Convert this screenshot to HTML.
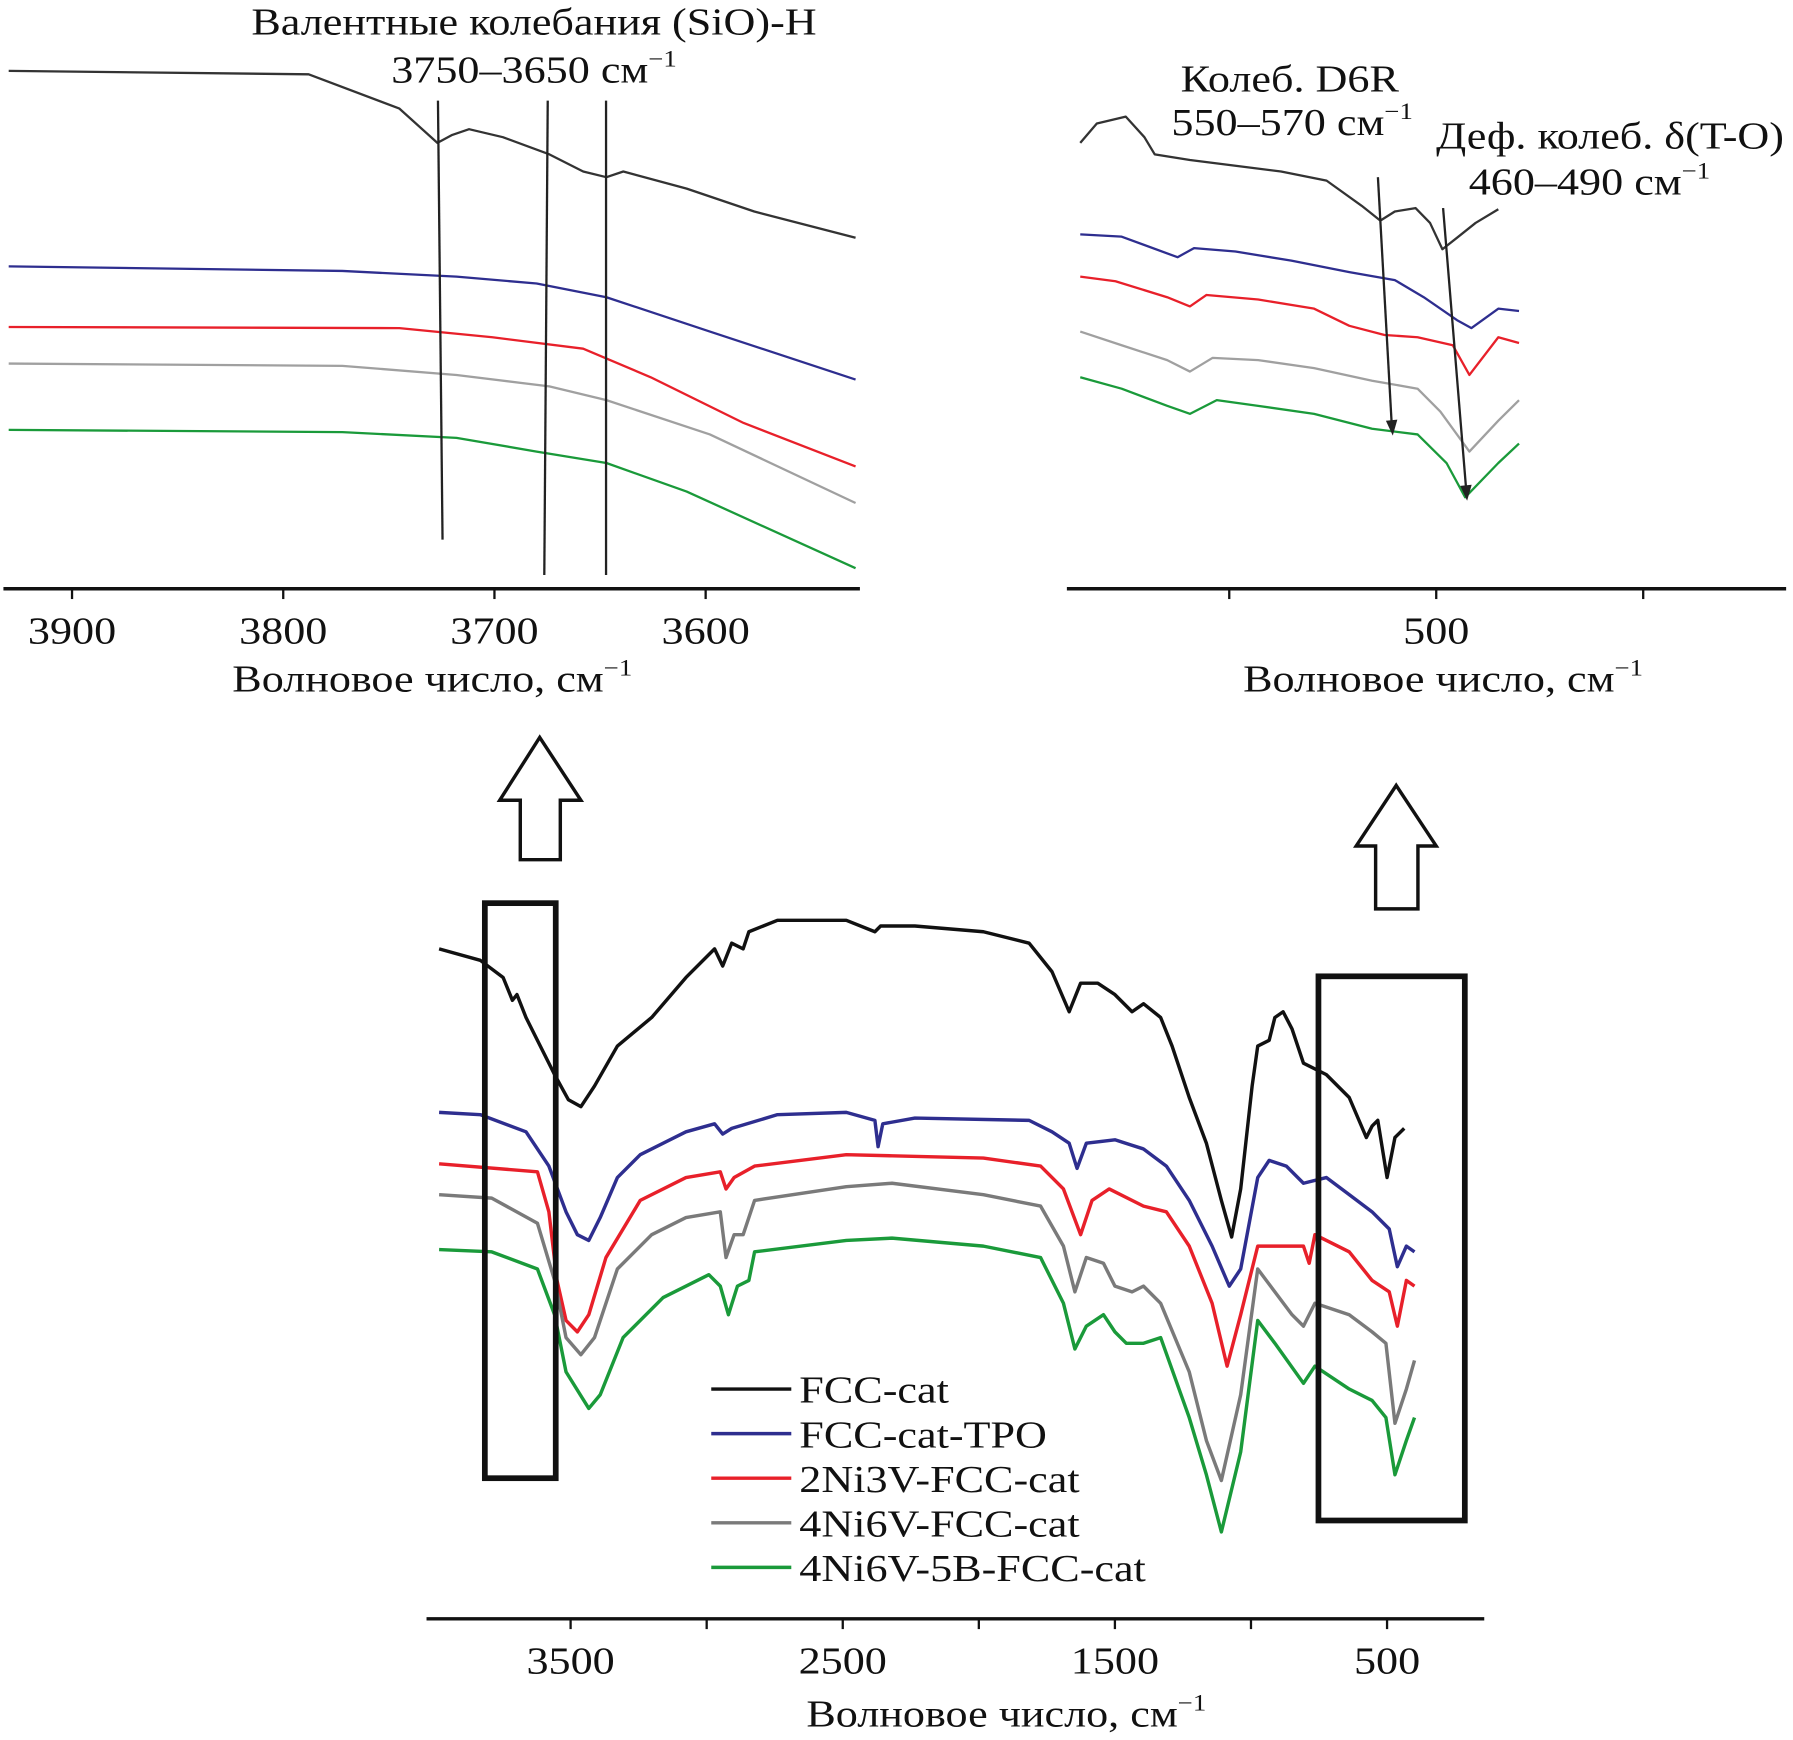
<!DOCTYPE html>
<html><head><meta charset="utf-8"><style>
html,body{margin:0;padding:0;background:#fff}
svg{display:block}
text{font-family:"Liberation Serif",serif;fill:#111}
</style></head><body>
<svg id="fig" width="1793" height="1740" viewBox="0 0 1568 1522" preserveAspectRatio="none" xmlns="http://www.w3.org/2000/svg">
<g id="main"></g>
<g id="insetL"></g>
<g id="insetR"></g>
<g id="deco">
<text x="467" y="30" font-size="33" text-anchor="middle">Валентные колебания (SiO)-H</text>
<text x="467" y="72" font-size="33" text-anchor="middle">3750–3650 см<tspan dy="-14" font-size="20">−1</tspan></text>
<text x="1128" y="80" font-size="33" text-anchor="middle">Колеб. D6R</text>
<text x="1130" y="118" font-size="33" text-anchor="middle">550–570 см<tspan dy="-14" font-size="20">−1</tspan></text>
<text x="1408" y="130" font-size="33" text-anchor="middle">Деф. колеб. δ(T-O)</text>
<text x="1390" y="170" font-size="33" text-anchor="middle">460–490 см<tspan dy="-14" font-size="20">−1</tspan></text>
<line x1="383" y1="88" x2="387" y2="472" stroke="#222" stroke-width="2"/>
<line x1="479" y1="88" x2="476" y2="503" stroke="#222" stroke-width="2"/>
<line x1="530" y1="88" x2="530" y2="503" stroke="#222" stroke-width="2"/>
<line x1="1205" y1="155" x2="1217" y2="370" stroke="#222" stroke-width="2"/>
<polygon points="1212,368 1222,367 1218,381" fill="#222"/>
<line x1="1262" y1="182" x2="1282" y2="426" stroke="#222" stroke-width="2"/>
<polygon points="1277,425 1287,424 1283,438" fill="#222"/>
<polygon points="472,645 508,700 490,700 490,752 455,752 455,700 437,700" fill="#fff" stroke="#111" stroke-width="3"/>
<polygon points="1221,687 1256,740 1240,740 1240,795 1203,795 1203,740 1186,740" fill="#fff" stroke="#111" stroke-width="3"/>
<rect x="424" y="790" width="62" height="503" fill="none" stroke="#111" stroke-width="5"/>
<rect x="1153" y="854" width="128" height="476" fill="none" stroke="#111" stroke-width="5"/>
</g>
<g id="legend"></g>
</svg>
<script>
const NS="http://www.w3.org/2000/svg";
const seriesNames=["FCC-cat","FCC-cat-TPO","2Ni3V-FCC-cat","4Ni6V-FCC-cat","4Ni6V-5B-FCC-cat"];
const seriesColors=["#111111","#2e2e8f","#e8202a","#7a7a7a","#1a9a3a"];
const insetColors=["#333333","#2e2e8f","#e8202a","#a0a0a0","#1a9a3a"];
// main spectrum data (wavenumber, transmittance a.u.)
const mainW0=[3983,3832,3748,3714,3697,3664,3622,3559,3508,3462,3412,3328,3202,3076,2971,2941,2908,2866,2845,2740,2487,2382,2361,2235,1983,1815,1731,1668,1626,1563,1500,1437,1395,1332,1290,1227,1164,1109,1071,1038,996,975,933,912,882,849,807,723,639,576,555,534,500,471,437];
const mainT0=[62,61,59.5,57.5,58,56,54,51,48.8,48.2,50,53.5,56,59.5,62,60.5,62.5,62,63.5,64.5,64.5,63.5,64,64,63.5,62.5,60,56.5,59,59,58,56.5,57.2,56,53.5,49,45,40,36.8,41,50,53.5,54,56,56.5,55,52,51,49,45.5,46.5,47,42,45.5,46.3];
const mainW1=[3983,3832,3664,3580,3517,3475,3433,3391,3328,3244,3076,2971,2941,2908,2740,2487,2382,2370,2353,2235,1815,1731,1668,1639,1605,1500,1395,1311,1227,1143,1080,1038,975,933,870,807,723,639,555,492,462,429,399];
const mainT1=[47.7,47.5,46,43,39,37,36.5,38.5,42,44,46,46.7,45.8,46.3,47.5,47.7,47,44.7,46.7,47.2,47,46,45,42.8,45,45.3,44.5,43,40,36,32.5,34,42,43.5,43,41.5,42,40.5,39,37.5,34.2,36,35.5];
const mainW2=[3983,3622,3580,3550,3517,3475,3433,3370,3244,3076,2950,2929,2899,2824,2487,2319,1983,1773,1689,1626,1584,1521,1395,1311,1227,1143,1088,1038,975,891,807,786,765,639,555,492,462,429,399];
const mainT2=[43.2,42.5,39,33,29.5,28.5,30,35,40,42,42.5,41,42,43,44,43.9,43.7,43,41,37,40,41,39.5,39,36,31,25.5,30,36,36,36,34.5,37,35.5,33,32,29,33,32.5];
const mainW3=[3983,3790,3622,3559,3517,3462,3412,3328,3202,3076,2950,2929,2899,2866,2824,2487,2319,1983,1773,1689,1647,1605,1542,1500,1437,1395,1332,1227,1164,1109,1038,975,912,849,807,765,639,555,504,471,429,399];
const mainT3=[40.5,40.2,38,33,28,26.5,28,34,37,38.5,39,35,37,37,40,41.2,41.5,40.5,39.5,36,32,35,34.5,32.5,32,32.5,31,25,19,15.5,23,34,32,30,29,31,30,28.5,27.5,20.5,23.5,26];
const mainW4=[3983,3790,3622,3559,3517,3433,3391,3307,3160,2992,2950,2920,2887,2845,2824,2487,2319,1983,1773,1689,1647,1605,1542,1500,1458,1395,1332,1227,1164,1109,1038,975,912,807,765,639,555,504,471,429,399];
const mainT4=[35.7,35.5,34,30,25,21.8,23,28,31.5,33.5,32.5,30,32.5,33,35.5,36.5,36.7,36,35,31,27,29,30,28.5,27.5,27.5,28,21,16,11,18,29.5,27.5,24,25.5,23.5,22.5,21,16,19,21];
// left inset (OH region)
const lW0=[3930,3788,3745,3727,3720,3712,3696,3674,3658,3647,3639,3609,3577,3529];
const lT0=[91.6,91,85,79,80.4,81.4,80,77,74,73,74,71,67,62.4];
const lW1=[3930,3772,3718,3680,3647,3598,3529];
const lT1=[57.4,56.6,55.6,54.4,52,46,37.6];
const lW2=[3930,3745,3701,3658,3626,3582,3529];
const lT2=[46.8,46.6,45,43,38,30,22.4];
const lW3=[3930,3772,3718,3674,3647,3598,3529];
const lT3=[40.4,40,38.4,36.4,34,28,16];
const lW4=[3930,3772,3718,3680,3647,3609,3529];
const lT4=[28.8,28.4,27.4,25,23,18,4.6];
// right inset (lattice region)
const rW0=[672,664,650,641,636,619,597,575,553,536,527,520,510,503,497,490,481,470];
const rT0=[79,82.4,83.6,80,77,76,75,74,72.4,68,65.4,67,67.6,65,60.4,62.4,65,67.4];
const rW1=[672,652,625,617,597,570,542,520,506,490,483,470,460];
const rT1=[63,62.6,59,60.6,60,58.4,56.4,55,52,48,46.6,50,49.6];
const rW2=[672,655,630,619,611,586,559,542,525,509,492,484,470,460];
const rT2=[55.6,54.8,52,50.4,52.4,51.6,50,47,45.4,45,43.6,38.4,45,44];
const rW3=[672,652,630,619,608,586,559,531,509,498,484,470,460];
const rT3=[46,43.6,41,39,41.4,41,39.6,37.4,36,32,25,30.4,34];
const rW4=[672,652,630,619,606,586,559,531,509,495,486,470,460];
const rT4=[38,36,33,31.6,34,33,31.6,29,28,23,17,23,26.4];

const mainTicks=[3500,2500,1500,500];
const mainMinor=[3000,2000,1000];
const leftTicks=[3900,3800,3700,3600];
const rightTicks=[600,500,400];
const rightTickLabels=["","500",""];

function mx(w){return 499+(3500-w)*0.238;}
function my(t){return 1450-t*10;}
function lx(w){return 63+(3900-w)*1.847;}
function ly(t){return 520-t*5;}
function rx(w){return 1256+(500-w)*1.81;}
function ry(t){return 520-t*5;}

function el(tag,attrs,parent){const e=document.createElementNS(NS,tag);for(const k in attrs)e.setAttribute(k,attrs[k]);parent.appendChild(e);return e;}
function drawLine(g,W,T,fx,fy,color,sw,name){
  const d=W.map((w,i)=>(i?"L":"M")+fx(w).toFixed(1)+","+fy(T[i]).toFixed(1)).join(" ");
  const p=el("path",{d:d,fill:"none",stroke:color,"stroke-width":sw,"stroke-linejoin":"round"},g);
  
  
}
const main=document.getElementById("main"),L=document.getElementById("insetL"),R=document.getElementById("insetR");
const mW=[mainW0,mainW1,mainW2,mainW3,mainW4],mT=[mainT0,mainT1,mainT2,mainT3,mainT4];
const LW=[lW0,lW1,lW2,lW3,lW4],LT=[lT0,lT1,lT2,lT3,lT4];
const RW=[rW0,rW1,rW2,rW3,rW4],RT=[rT0,rT1,rT2,rT3,rT4];
for(let i=0;i<5;i++){
  drawLine(main,mW[i],mT[i],mx,my,seriesColors[i],3,"main-series-"+seriesNames[i].toLowerCase());
  drawLine(L,LW[i],LT[i],lx,ly,insetColors[i],2,"inset-left-series-"+seriesNames[i].toLowerCase());
  drawLine(R,RW[i],RT[i],rx,ry,insetColors[i],2,"inset-right-series-"+seriesNames[i].toLowerCase());
}
function axis(g,x1,x2,y,name){const a=el("line",{x1:x1,x2:x2,y1:y,y2:y,stroke:"#111","stroke-width":3},g);
  
  }
function tick(g,x,y,len,label,name){
  const t=el("line",{x1:x,x2:x,y1:y,y2:y+len,stroke:"#111","stroke-width":2},g);
  
  
  if(label){const tx=el("text",{x:x,y:y+48,"font-size":33,"text-anchor":"middle"},g);tx.textContent=label;
    
    }
}
function title(g,x,y){const t=el("text",{x:x,y:y,"font-size":33,"text-anchor":"middle"},g);
  t.innerHTML='Волновое число, см<tspan dy="-14" font-size="20">−1</tspan>';
  
  }
axis(main,373,1298,1416,"main-x-axis");
mainTicks.forEach(w=>tick(main,mx(w),1416,9,String(w),"main-tick"));
mainMinor.forEach(w=>tick(main,mx(w),1416,9,"","main-minor-tick"));
title(main,880,1510);
axis(L,3,752,515,"inset-left-x-axis");
leftTicks.forEach(w=>tick(L,lx(w),515,9,String(w),"inset-left-tick"));
title(L,378,605);
axis(R,933,1562,515,"inset-right-x-axis");
rightTicks.forEach((w,i)=>tick(R,rx(w),515,9,rightTickLabels[i],"inset-right-tick"));
title(R,1262,605);
const lg=document.getElementById("legend");
for(let i=0;i<5;i++){
  const y=1215+i*39;
  const ln=el("line",{x1:622,x2:692,y1:y,y2:y,stroke:seriesColors[i],"stroke-width":3},lg);
  
  
  const t=el("text",{x:699,y:y+12,"font-size":33},lg);t.textContent=seriesNames[i];
  
  
}
// horizontally widen all text (reference glyphs are wider)
document.querySelectorAll("#fig text").forEach(t=>{
  const bb=t.getBBox();
  const anchor=t.getAttribute("text-anchor");
  const ax=anchor==="middle"?bb.x+bb.width/2:bb.x;
  t.setAttribute("transform","translate("+ax+",0) scale(1.17,1) translate("+(-ax)+",0)");
});
</script>
</body></html>
